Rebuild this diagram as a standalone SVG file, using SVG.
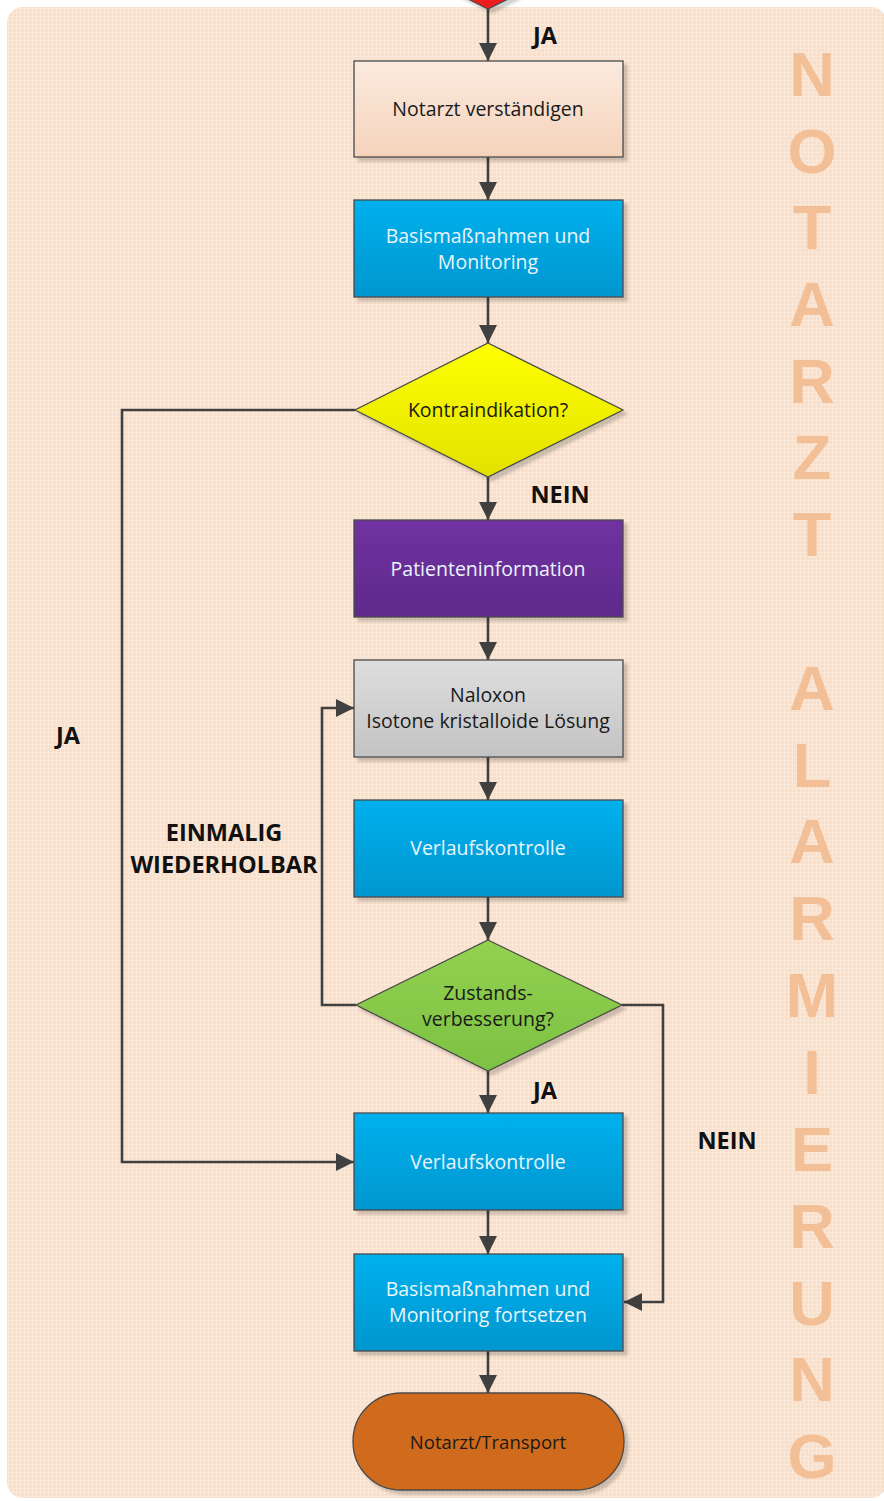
<svg xmlns="http://www.w3.org/2000/svg" width="884" height="1501" viewBox="0 0 884 1501">
<defs>
<style>
.txt{font-family:"Open Sans","Noto Sans","DejaVu Sans",sans-serif;font-size:19.5px;text-anchor:middle;}
.dark{fill:#1a1a1a;}
.light{fill:#eaf5fc;}
.lbl{font-family:"Open Sans","Noto Sans","DejaVu Sans",sans-serif;font-size:23.5px;font-weight:bold;fill:#111;text-anchor:middle;}
.big{font-family:"Liberation Sans","Arial",sans-serif;font-size:63px;font-weight:bold;fill:#f2bf97;text-anchor:middle;}
.node{stroke:#4a4a4a;stroke-width:1.3;filter:url(#sh);}
.conn{fill:none;stroke:#404040;stroke-width:2.6;}
</style>
<pattern id="grid" width="4" height="4" patternUnits="userSpaceOnUse">
<rect width="4" height="4" fill="#f8dfca"/>
<rect x="0" y="0" width="4" height="1" fill="#fbe8d8"/>
<rect x="0" y="0" width="1" height="4" fill="#fbe8d8"/>
</pattern>
<filter id="sh" x="-10%" y="-10%" width="130%" height="130%">
<feDropShadow dx="4" dy="4" stdDeviation="1.5" flood-color="#000" flood-opacity="0.18"/>
</filter>
<linearGradient id="gPeach" x1="0" y1="0" x2="0" y2="1"><stop offset="0" stop-color="#fbeade"/><stop offset="1" stop-color="#f5d3bb"/></linearGradient>
<linearGradient id="gBlue" x1="0" y1="0" x2="0" y2="1"><stop offset="0" stop-color="#00b1ed"/><stop offset="1" stop-color="#0096cf"/></linearGradient>
<linearGradient id="gYellow" x1="0" y1="0" x2="0" y2="1"><stop offset="0" stop-color="#ffff00"/><stop offset="1" stop-color="#e2e200"/></linearGradient>
<linearGradient id="gPurple" x1="0" y1="0" x2="0" y2="1"><stop offset="0" stop-color="#7131a1"/><stop offset="1" stop-color="#5e2a8b"/></linearGradient>
<linearGradient id="gGray" x1="0" y1="0" x2="0" y2="1"><stop offset="0" stop-color="#dedede"/><stop offset="1" stop-color="#c3c3c3"/></linearGradient>
<linearGradient id="gGreen" x1="0" y1="0" x2="0" y2="1"><stop offset="0" stop-color="#93d150"/><stop offset="1" stop-color="#7dc143"/></linearGradient>
<marker id="arr" viewBox="0 0 18 18" refX="18" refY="9" markerWidth="18" markerHeight="18" markerUnits="userSpaceOnUse" orient="auto">
<path d="M0,0 L18,9 L0,18 z" fill="#404040"/>
</marker>
</defs>

<rect x="0" y="0" width="884" height="1501" fill="#ffffff"/>
<rect x="7" y="7" width="880" height="1491" rx="16" fill="url(#grid)"/>

<g id="watermark">
<text class="big" x="812" y="96">N</text>
<text class="big" x="812" y="173">O</text>
<text class="big" x="812" y="249">T</text>
<text class="big" x="812" y="326">A</text>
<text class="big" x="812" y="403">R</text>
<text class="big" x="812" y="479">Z</text>
<text class="big" x="812" y="556">T</text>
<text class="big" x="812" y="710">A</text>
<text class="big" x="812" y="787">L</text>
<text class="big" x="812" y="863">A</text>
<text class="big" x="812" y="940">R</text>
<text class="big" x="812" y="1017">M</text>
<text class="big" x="812" y="1094">I</text>
<text class="big" x="812" y="1171">E</text>
<text class="big" x="812" y="1248">R</text>
<text class="big" x="812" y="1325">U</text>
<text class="big" x="812" y="1401">N</text>
<text class="big" x="812" y="1478">G</text>
</g>

<g id="connectors">
<line class="conn" x1="488" y1="9" x2="488" y2="61" marker-end="url(#arr)"/>
<line class="conn" x1="488" y1="157" x2="488" y2="200" marker-end="url(#arr)"/>
<line class="conn" x1="488" y1="297" x2="488" y2="343" marker-end="url(#arr)"/>
<line class="conn" x1="488" y1="477" x2="488" y2="520" marker-end="url(#arr)"/>
<line class="conn" x1="488" y1="617" x2="488" y2="660" marker-end="url(#arr)"/>
<line class="conn" x1="488" y1="757" x2="488" y2="800" marker-end="url(#arr)"/>
<line class="conn" x1="488" y1="897" x2="488" y2="940" marker-end="url(#arr)"/>
<line class="conn" x1="488" y1="1071" x2="488" y2="1113" marker-end="url(#arr)"/>
<line class="conn" x1="488" y1="1210" x2="488" y2="1254" marker-end="url(#arr)"/>
<line class="conn" x1="488" y1="1351" x2="488" y2="1393" marker-end="url(#arr)"/>
<polyline class="conn" points="355,410 122,410 122,1162 354,1162" marker-end="url(#arr)"/>
<polyline class="conn" points="356,1005 322,1005 322,708 354,708" marker-end="url(#arr)"/>
<polyline class="conn" points="622,1005 663,1005 663,1302 624,1302" marker-end="url(#arr)"/>
</g>

<g id="labels">
<text class="lbl" x="545" y="44">JA</text>
<text class="lbl" x="560" y="503">NEIN</text>
<text class="lbl" x="68" y="744">JA</text>
<text class="lbl" x="224" y="841">EINMALIG</text>
<text class="lbl" x="224" y="873">WIEDERHOLBAR</text>
<text class="lbl" x="545" y="1099">JA</text>
<text class="lbl" x="727" y="1149">NEIN</text>
</g>

<g id="start">
<polygon class="node" points="488,9 354,-58 622,-58" fill="#ee1b1b"/>
</g>

<g id="n1">
<rect class="node" x="354" y="61" width="269" height="96" fill="url(#gPeach)"/>
<text class="txt dark" x="488" y="116">Notarzt verständigen</text>
</g>

<g id="n2">
<rect class="node" x="354" y="200" width="269" height="97" fill="url(#gBlue)"/>
<text class="txt light" x="488" y="243">Basismaßnahmen und</text>
<text class="txt light" x="488" y="269">Monitoring</text>
</g>

<g id="d1">
<polygon class="node" points="488,343 623,410 488,477 355,410" fill="url(#gYellow)"/>
<text class="txt dark" x="488" y="417">Kontraindikation?</text>
</g>

<g id="n3">
<rect class="node" x="354" y="520" width="269" height="97" fill="url(#gPurple)"/>
<text class="txt light" x="488" y="576">Patienteninformation</text>
</g>

<g id="n4">
<rect class="node" x="354" y="660" width="269" height="97" fill="url(#gGray)"/>
<text class="txt dark" x="488" y="702">Naloxon</text>
<text class="txt dark" x="488" y="728">Isotone kristalloide Lösung</text>
</g>

<g id="n5">
<rect class="node" x="354" y="800" width="269" height="97" fill="url(#gBlue)"/>
<text class="txt light" x="488" y="855">Verlaufskontrolle</text>
</g>

<g id="d2">
<polygon class="node" points="488,940 622,1005 488,1071 356,1005" fill="url(#gGreen)"/>
<text class="txt dark" x="488" y="1000">Zustands-</text>
<text class="txt dark" x="488" y="1026">verbesserung?</text>
</g>

<g id="n6">
<rect class="node" x="354" y="1113" width="269" height="97" fill="url(#gBlue)"/>
<text class="txt light" x="488" y="1169">Verlaufskontrolle</text>
</g>

<g id="n7">
<rect class="node" x="354" y="1254" width="269" height="97" fill="url(#gBlue)"/>
<text class="txt light" x="488" y="1296">Basismaßnahmen und</text>
<text class="txt light" x="488" y="1322">Monitoring fortsetzen</text>
</g>

<g id="end">
<rect class="node" x="353" y="1393" width="271" height="97" rx="48" ry="48" fill="#d06b1a"/>
<text class="txt dark" x="488" y="1449" style="font-size:18.5px">Notarzt/Transport</text>
</g>
</svg>
